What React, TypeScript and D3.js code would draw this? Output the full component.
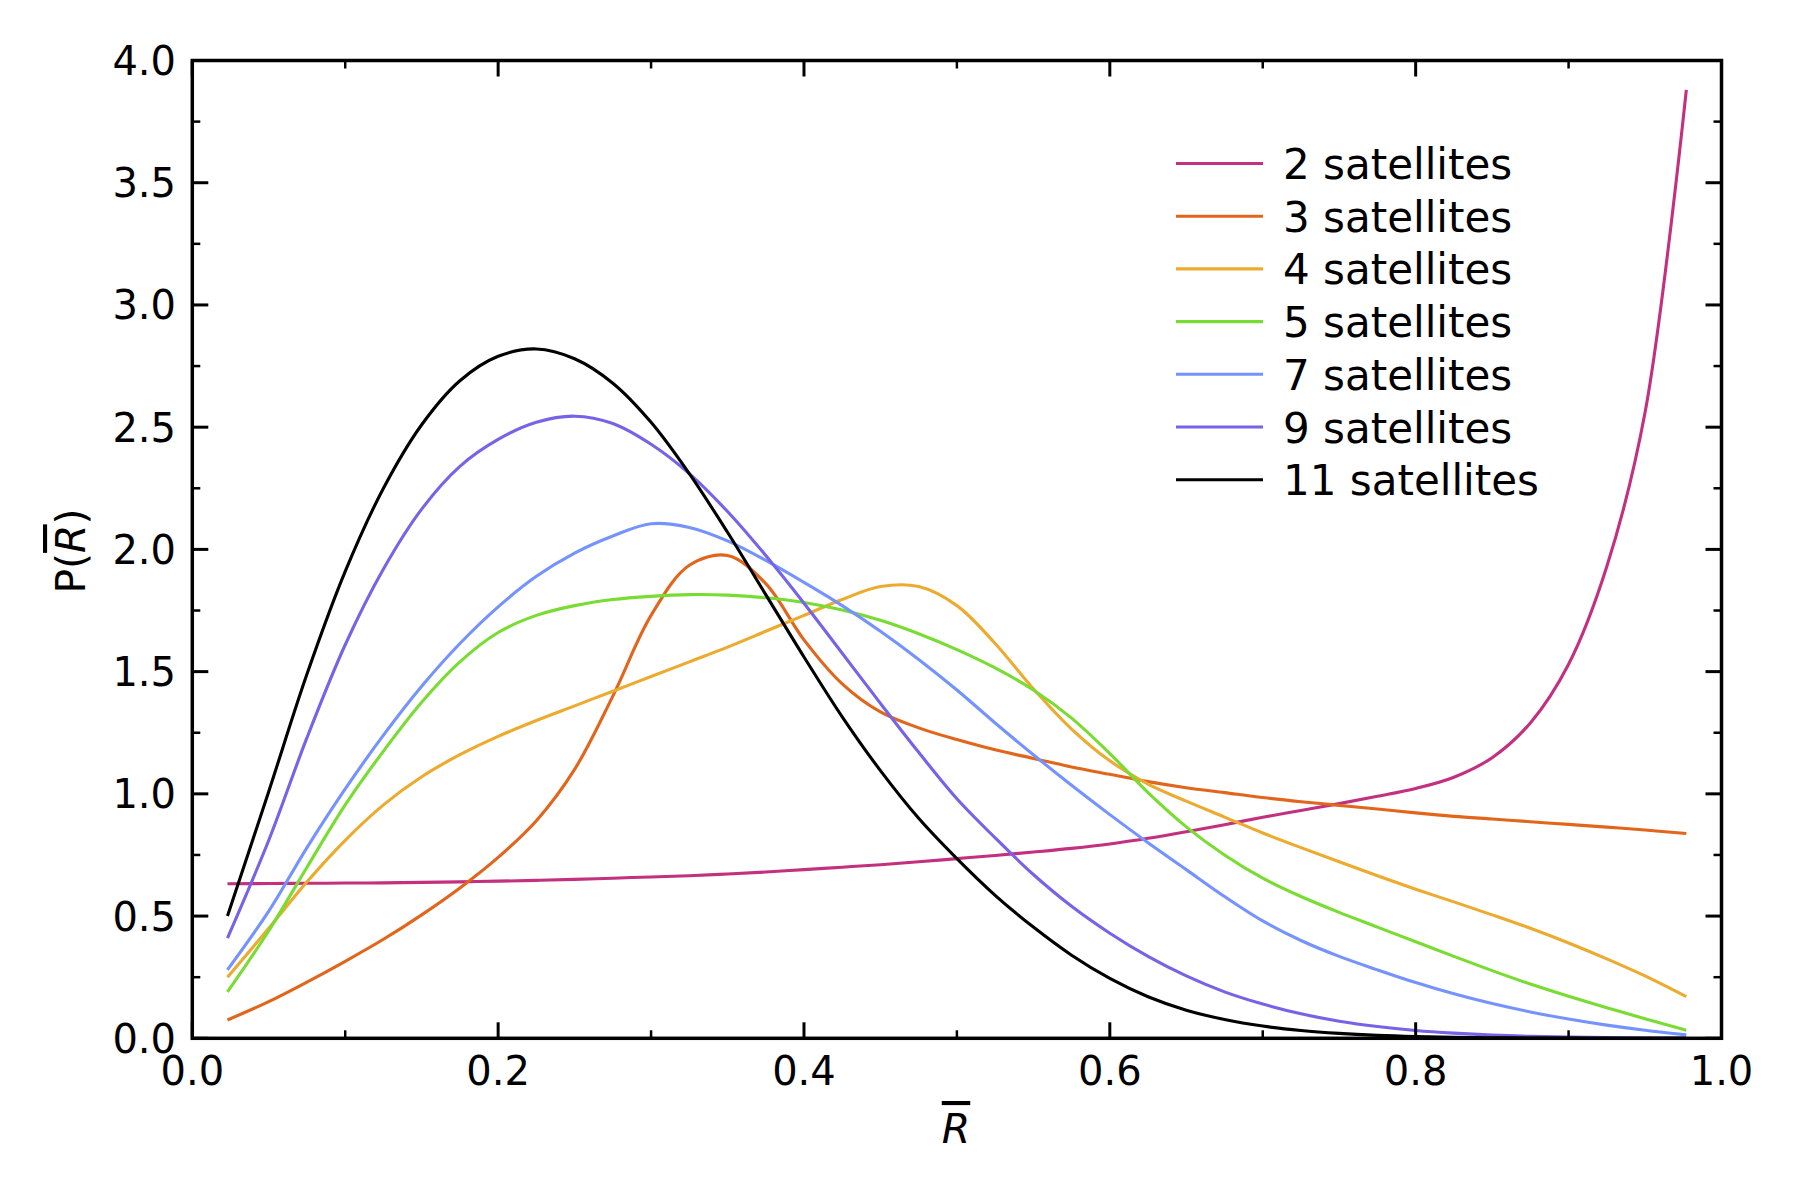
import React from "react";
import * as d3 from "d3";

const xValues = [0.023,0.05,0.075,0.1,0.125,0.15,0.175,0.2,0.225,0.25,0.275,0.3,0.325,0.35,0.375,0.4,0.425,0.45,0.475,0.5,0.525,0.55,0.575,0.6,0.625,0.65,0.675,0.7,0.725,0.75,0.775,0.8,0.825,0.85,0.875,0.9,0.925,0.95,0.977];

const sat2 = [0.632,0.633,0.634,0.635,0.636,0.638,0.640,0.643,0.646,0.650,0.655,0.660,0.665,0.672,0.680,0.690,0.700,0.710,0.722,0.735,0.748,0.762,0.777,0.795,0.818,0.845,0.874,0.904,0.932,0.960,0.990,1.022,1.068,1.148,1.29,1.53,1.93,2.56,3.88];
const sat3 = [0.075,0.15,0.23,0.315,0.405,0.505,0.615,0.74,0.89,1.10,1.40,1.73,1.935,1.975,1.86,1.63,1.45,1.335,1.27,1.222,1.18,1.145,1.11,1.08,1.05,1.025,1.005,0.985,0.968,0.953,0.938,0.922,0.908,0.897,0.886,0.875,0.864,0.852,0.838];
const sat4 = [0.25,0.45,0.64,0.81,0.955,1.07,1.16,1.235,1.30,1.36,1.42,1.48,1.54,1.60,1.665,1.73,1.795,1.848,1.848,1.77,1.615,1.43,1.265,1.135,1.04,0.97,0.905,0.84,0.78,0.722,0.665,0.61,0.558,0.505,0.45,0.39,0.325,0.255,0.17];
const sat5 = [0.19,0.44,0.70,0.955,1.175,1.375,1.54,1.66,1.73,1.77,1.795,1.808,1.815,1.813,1.802,1.783,1.752,1.71,1.655,1.59,1.515,1.425,1.31,1.165,1.005,0.865,0.75,0.655,0.58,0.515,0.455,0.395,0.335,0.277,0.222,0.172,0.125,0.08,0.033];
const sat7 = [0.28,0.52,0.78,1.02,1.24,1.44,1.615,1.765,1.89,1.985,2.055,2.105,2.09,2.035,1.955,1.865,1.77,1.665,1.55,1.425,1.29,1.16,1.035,0.915,0.80,0.69,0.58,0.48,0.40,0.335,0.28,0.228,0.182,0.142,0.108,0.079,0.054,0.033,0.014];
const sat9 = [0.41,0.81,1.23,1.61,1.92,2.165,2.34,2.45,2.52,2.545,2.515,2.43,2.31,2.155,1.975,1.78,1.575,1.37,1.17,0.98,0.82,0.67,0.54,0.43,0.335,0.255,0.19,0.14,0.10,0.07,0.048,0.032,0.021,0.013,0.008,0.005,0.003,0.0015,0.0007];
const sat11 = [0.50,1.01,1.49,1.91,2.25,2.51,2.69,2.79,2.82,2.78,2.68,2.52,2.31,2.07,1.815,1.56,1.315,1.095,0.90,0.735,0.585,0.455,0.34,0.245,0.17,0.115,0.077,0.05,0.032,0.02,0.012,0.007,0.004,0.0022,0.0012,0.0006,0.0003,0.0002,0.0001];

const seriesLabels = ["2 satellites","3 satellites","4 satellites","5 satellites","7 satellites","9 satellites","11 satellites"];
const seriesColors = ["#c2307f","#e2651c","#ecab2e","#79dc33","#7593ff","#7563e8","#000000"];
const seriesValues = [sat2, sat3, sat4, sat5, sat7, sat9, sat11];

const xMajor = [0, 0.2, 0.4, 0.6, 0.8, 1.0];
const xMinor = [0.1, 0.3, 0.5, 0.7, 0.9];
const yMajor = [0, 0.5, 1.0, 1.5, 2.0, 2.5, 3.0, 3.5, 4.0];
const yMinor = [0.25, 0.75, 1.25, 1.75, 2.25, 2.75, 3.25, 3.75];

const W = 1800, H = 1200;
const L = 192.3, R = 1721.5, T = 60.5, B = 1038.3;
const FONT = "DejaVu Sans";

export default function App() {
  const x = d3.scaleLinear().domain([0, 1]).range([L, R]);
  const y = d3.scaleLinear().domain([0, 4]).range([B, T]);
  const line = d3.line<number>()
    .x((_, i) => x(xValues[i]))
    .y((d) => y(d))
    .curve(d3.curveCatmullRom.alpha(0.5));

  const majLen = 16, minLen = 8;
  const legX0 = 1176, legX1 = 1263, legTextX = 1283, legY0 = 163.5, legDy = 52.7;

  return (
    <svg width={W} height={H} style={{ position: "absolute", left: 0, top: 0, background: "#fff" }}
      fontFamily={FONT}>
      <rect x={0} y={0} width={W} height={H} fill="#fff" />
      <defs>
        <clipPath id="plotclip"><rect x={L} y={T} width={R - L} height={B - T} /></clipPath>
      </defs>
      <g clipPath="url(#plotclip)">
        {seriesValues.map((vals, k) => (
          <path key={k} d={line(vals) || ""} fill="none" stroke={seriesColors[k]} strokeWidth={3.1} strokeLinejoin="round" />
        ))}
      </g>
      <g stroke="#000">
        {xMajor.map((v) => (
          <g key={"xM" + v}>
            <line x1={x(v)} x2={x(v)} y1={B} y2={B - majLen} strokeWidth={3} />
            <line x1={x(v)} x2={x(v)} y1={T} y2={T + majLen} strokeWidth={3} />
          </g>
        ))}
        {xMinor.map((v) => (
          <g key={"xm" + v}>
            <line x1={x(v)} x2={x(v)} y1={B} y2={B - minLen} strokeWidth={2.5} />
            <line x1={x(v)} x2={x(v)} y1={T} y2={T + minLen} strokeWidth={2.5} />
          </g>
        ))}
        {yMajor.map((v) => (
          <g key={"yM" + v}>
            <line x1={L} x2={L + majLen} y1={y(v)} y2={y(v)} strokeWidth={3} />
            <line x1={R} x2={R - majLen} y1={y(v)} y2={y(v)} strokeWidth={3} />
          </g>
        ))}
        {yMinor.map((v) => (
          <g key={"ym" + v}>
            <line x1={L} x2={L + minLen} y1={y(v)} y2={y(v)} strokeWidth={2.5} />
            <line x1={R} x2={R - minLen} y1={y(v)} y2={y(v)} strokeWidth={2.5} />
          </g>
        ))}
      </g>
      <rect x={L} y={T} width={R - L} height={B - T} fill="none" stroke="#000" strokeWidth={3.5} />
      {xMajor.map((v) => (
        <text key={"xl" + v} x={x(v)} y={B + 47} textAnchor="middle" fontSize={40} fill="#000">{v.toFixed(1)}</text>
      ))}
      {yMajor.map((v) => (
        <text key={"yl" + v} x={176} y={y(v) + 14.5} textAnchor="end" fontSize={40} fill="#000">{v.toFixed(1)}</text>
      ))}
      <text x={956} y={1143} textAnchor="middle" fontSize={41} fill="#000">
        <tspan fontStyle="italic" style={{ textDecoration: "overline" }}>R</tspan>
      </text>
      <text transform="translate(85,551) rotate(-90)" textAnchor="middle" fontSize={41} fill="#000">
        <tspan>P(</tspan>
        <tspan fontStyle="italic" style={{ textDecoration: "overline" }}>R</tspan>
        <tspan>)</tspan>
      </text>
      {seriesLabels.map((lab, k) => (
        <g key={"leg" + k}>
          <line x1={legX0} x2={legX1} y1={legY0 + k * legDy} y2={legY0 + k * legDy} stroke={seriesColors[k]} strokeWidth={3.1} />
          <text x={legTextX} y={legY0 + k * legDy + 15.5} fontSize={42} fill="#000">{lab}</text>
        </g>
      ))}
    </svg>
  );
}
